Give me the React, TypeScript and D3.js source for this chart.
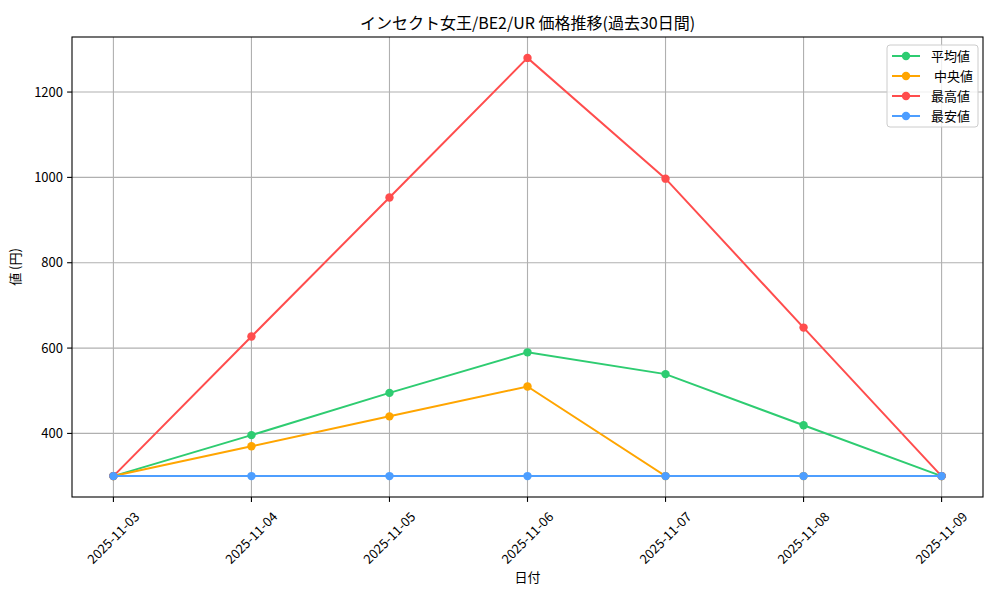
import * as d3 from 'd3';

const dates = ['2025-11-03', '2025-11-04', '2025-11-05', '2025-11-06', '2025-11-07', '2025-11-08', '2025-11-09'];
const avgPrice = [300, 396, 495, 590, 539, 419, 300];
const medianPrice = [300, 370, 440, 510, 300, 300, 300];
const maxPrice = [300, 627, 953, 1280, 997, 648, 300];
const minPrice = [300, 300, 300, 300, 300, 300, 300];
const yTicks = [400, 600, 800, 1000, 1200];

const series = [
  { label: '平均値', color: '#2ecc71', values: avgPrice },
  { label: ' 中央値', color: '#ffa500', values: medianPrice },
  { label: '最高値', color: '#ff4d4d', values: maxPrice },
  { label: '最安値', color: '#4d9eff', values: minPrice },
];

const W = 1000;
const H = 600;
const margin = { top: 37, right: 17, bottom: 103, left: 72 };
const FONT = '"Noto Sans CJK JP", "Noto Sans", sans-serif';

export default function App() {
  const w = W - margin.left - margin.right;
  const h = H - margin.top - margin.bottom;

  const all = series.flatMap((s) => s.values);
  const lo = d3.min(all)!;
  const hi = d3.max(all)!;
  const pad = (hi - lo) * 0.05;
  const y = d3.scaleLinear().domain([lo - pad, hi + pad]).range([h, 0]);
  const xPad = (dates.length - 1) * 0.05;
  const x = d3.scaleLinear().domain([-xPad, dates.length - 1 + xPad]).range([0, w]);

  const line = d3
    .line<number>()
    .x((_, i) => x(i))
    .y((d) => y(d));

  return (
    <svg width={W} height={H} style={{ position: 'absolute', left: 0, top: 0, background: '#fff' }} fontFamily={FONT}>
      <text x={margin.left + w / 2} y={29} textAnchor="middle" fontSize={16} fill="#000">
        インセクト女王/BE2/UR 価格推移(過去30日間)
      </text>
      <g transform={`translate(${margin.left},${margin.top})`}>
        {/* grid */}
        {yTicks.map((t) => (
          <line key={'gy' + t} x1={0} x2={w} y1={y(t)} y2={y(t)} stroke="#b0b0b0" strokeWidth={1.1} />
        ))}
        {dates.map((d, i) => (
          <line key={'gx' + d} x1={x(i)} x2={x(i)} y1={0} y2={h} stroke="#b0b0b0" strokeWidth={1.1} />
        ))}

        {/* series */}
        {series.map((s) => (
          <g key={s.label}>
            <path d={line(s.values)!} fill="none" stroke={s.color} strokeWidth={2} />
            {s.values.map((v, i) => (
              <circle key={i} cx={x(i)} cy={y(v)} r={4.2} fill={s.color} />
            ))}
          </g>
        ))}

        {/* spines */}
        <rect x={0} y={0} width={w} height={h} fill="none" stroke="#000" strokeWidth={1.1} />

        {/* y axis */}
        {yTicks.map((t) => (
          <g key={'ty' + t} transform={`translate(0,${y(t)})`}>
            <line x1={-4.9} x2={0} stroke="#000" strokeWidth={1.1} />
            <text x={-9} dy="0.35em" textAnchor="end" fontSize={13} fill="#000">
              {t}
            </text>
          </g>
        ))}

        {/* x axis */}
        {dates.map((d, i) => (
          <g key={'tx' + d} transform={`translate(${x(i)},${h})`}>
            <line y1={0} y2={4.9} stroke="#000" strokeWidth={1.1} />
            <text
              transform="translate(0,41) rotate(-45)"
              textAnchor="middle"
              dy="0.35em"
              fontSize={13}
              fill="#000"
            >
              {d}
            </text>
          </g>
        ))}

        <text x={w / 2} y={h + 85} textAnchor="middle" fontSize={13} fill="#000">
          日付
        </text>
        <text
          transform={`translate(${-52},${h / 2}) rotate(-90)`}
          textAnchor="middle"
          fontSize={13}
          fill="#000"
        >
          値 (円)
        </text>

        {/* legend */}
        <g transform={`translate(${w - 96},${8})`}>
          <rect x={0} y={0} width={91} height={82} rx={3} fill="#fff" fillOpacity={0.8} stroke="#cccccc" strokeWidth={1} />
          {series.map((s, i) => (
            <g key={'lg' + s.label} transform={`translate(0,${11 + i * 20})`}>
              <line x1={5} x2={33} stroke={s.color} strokeWidth={2} />
              <circle cx={19} cy={0} r={4.2} fill={s.color} />
              <text x={44} dy="0.35em" fontSize={13} fill="#000" style={{ whiteSpace: 'pre' }}>
                {s.label}
              </text>
            </g>
          ))}
        </g>
      </g>
    </svg>
  );
}
